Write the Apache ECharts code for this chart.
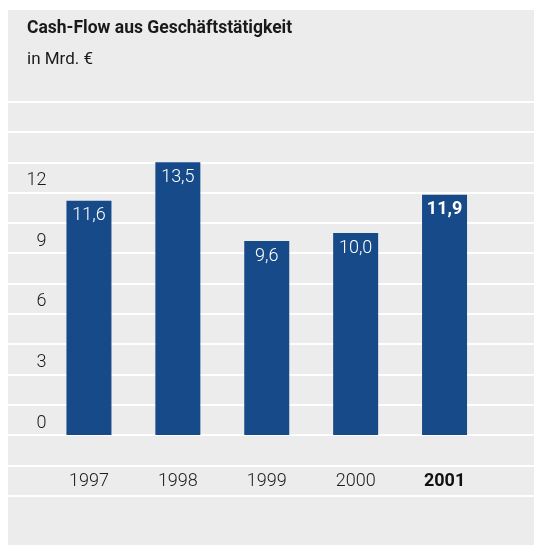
<!DOCTYPE html>
<html>
<head>
<meta charset="utf-8">
<script src="https://cdn.jsdelivr.net/npm/echarts@6/dist/echarts.min.js"></script>
<style>
html,body{margin:0;padding:0;background:#ffffff;}
#c{position:absolute;left:8px;top:10px;width:526px;height:535px;background:#ececec;}
</style>
</head>
<body>
<div id="c"></div>
<script>
var categories = ['1997', '1998', '1999', '2000', '2001'];
var values = [11.6, 13.5, 9.6, 10.0, 11.9];
var valueLabels = ['11,6', '13,5', '9,6', '10,0', '11,9'];
var yTickLabels = ['0', '3', '6', '9', '12'];
var highlight = '2001';
var titleText = 'Cash-Flow aus Geschäftstätigkeit';
var subtitleText = 'in Mrd. €';

var FONT = '"Roboto", "Liberation Sans Narrow", sans-serif';
var chart = echarts.init(document.getElementById('c'), null, {renderer: 'canvas'});

var gridTop = 91.7, gridBottom = 49.3;
var yMin = -3, yMax = 16.5, yInt = 1.5;

var option = {
  animation: false,
  backgroundColor: 'transparent',
  title: [
    {text: titleText, left: 14, top: 5,
     textStyle: {fontFamily: FONT, fontSize: 17.5, fontWeight: 'bold', color: '#1a1a1a'}},
    {text: subtitleText, left: 14, top: 36,
     textStyle: {fontFamily: FONT, fontSize: 17, fontWeight: 'normal', color: '#1a1a1a'}}
  ],
  grid: [
    {left: 0, right: 0, top: gridTop, bottom: gridBottom},
    {left: 36.5, right: 45, top: gridTop, bottom: gridBottom}
  ],
  xAxis: [
    {type: 'value', gridIndex: 0, show: false, min: 0, max: 1},
    {type: 'category', gridIndex: 1, data: categories, offset: -60.7,
     axisLine: {show: false, onZero: false}, axisTick: {show: false},
     axisLabel: {margin: 37, fontFamily: FONT, fontSize: 18, fontWeight: 300, color: '#1a1a1a',
       formatter: function (v) { return v === highlight ? '{b|' + v + '}' : v; },
       rich: {b: {fontFamily: FONT, fontSize: 18, fontWeight: 'bold', color: '#111'}}}}
  ],
  yAxis: [
    {type: 'value', gridIndex: 0, min: yMin, max: yMax, interval: yInt,
     axisLine: {show: false}, axisTick: {show: false}, axisLabel: {show: false},
     splitLine: {show: true, lineStyle: {color: '#ffffff', width: 2}}},
    {type: 'value', gridIndex: 1, min: yMin, max: yMax, interval: yInt,
     axisLine: {show: false}, axisTick: {show: false}, splitLine: {show: false},
     axisLabel: {margin: -2, fontFamily: FONT, fontSize: 18, fontWeight: 300, color: '#1a1a1a',
       verticalAlign: 'bottom', padding: [0, 0, 3, 0],
       formatter: function (v) {
         var s = String(Math.round(v * 10) / 10);
         return yTickLabels.indexOf(s) >= 0 ? s : '';
       }}}
  ],
  series: [{
    type: 'bar', xAxisIndex: 1, yAxisIndex: 1,
    barWidth: 45,
    itemStyle: {color: '#174a88'},
    data: values.map(function (v, i) {
      var bold = categories[i] === highlight;
      return {value: v, label: {fontWeight: bold ? 'bold' : 300}};
    }),
    label: {show: true, position: 'insideTop', distance: 6,
      fontFamily: FONT, fontSize: 18, color: '#ffffff',
      formatter: function (p) { return valueLabels[p.dataIndex]; }}
  }]
};
chart.setOption(option);
</script>
</body>
</html>
